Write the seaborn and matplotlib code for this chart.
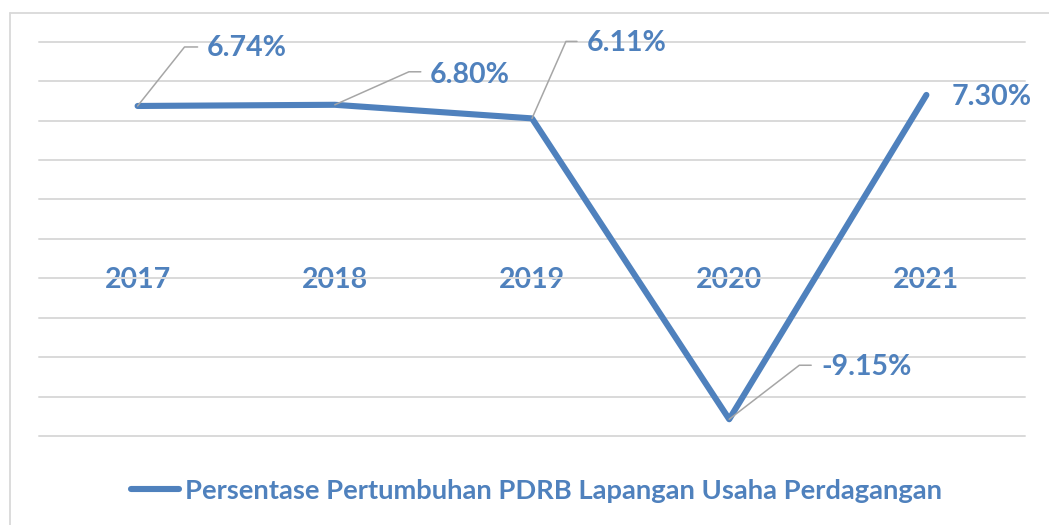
import math
import matplotlib
matplotlib.use("Agg")
import matplotlib.pyplot as plt
from matplotlib.lines import Line2D
import pandas as pd
import seaborn as sns

# ---- data -------------------------------------------------------------
years = ["2017", "2018", "2019", "2020", "2021"]
growth = [6.74, 6.80, 6.11, -9.15, 7.30]
value_labels = ["6.74%", "6.80%", "6.11%", "-9.15%", "7.30%"]
series_name = "Persentase Pertumbuhan PDRB Lapangan Usaha Perdagangan"
y_ticks = list(range(-10, 11, 2))

# ---- style ------------------------------------------------------------
BLUE = "#4F81BD"
GRID = "#D9D9D9"
LEADER = "#A6A6A6"
FONT = ["Lato", "DejaVu Sans"]
FS_NUM = 20.5
FS_LEG = 19.7

sns.set_theme(style="white")
plt.rcParams["font.family"] = FONT

W, H = 1049, 525
PX = 72 / 100  # points per pixel at dpi 100

df = pd.DataFrame({"Tahun": years, "Pertumbuhan": growth})

fig = plt.figure(figsize=(W / 100, H / 100), dpi=100)
ax = fig.add_axes([39 / W, 1 - 436 / H, (1025 - 39) / W, (436 - 41.7) / H])

sns.lineplot(data=df, x="Tahun", y="Pertumbuhan", ax=ax, color=BLUE,
             linewidth=4.4, sort=False, label=series_name)
line = ax.lines[0]
line.set_solid_capstyle("round")
line.set_solid_joinstyle("round")
handles, labels = ax.get_legend_handles_labels()
if ax.get_legend() is not None:
    ax.get_legend().remove()

ax.set_xlim(-0.5, len(years) - 0.5)
ax.set_ylim(y_ticks[0], y_ticks[-1])
ax.set_yticks(y_ticks)
ax.yaxis.grid(True, color=GRID, linewidth=1.4)
ax.xaxis.grid(False)
for gl in ax.get_ygridlines():
    gl.set_clip_on(False)
ax.tick_params(axis="y", left=False, labelleft=False)
ax.set_xlabel("")
ax.set_ylabel("")
for side in ["top", "right", "left"]:
    ax.spines[side].set_visible(False)
ax.spines["bottom"].set_position(("data", 0))
ax.spines["bottom"].set_visible(False)
ax.tick_params(axis="x", bottom=False, length=0, pad=20.5, colors=BLUE)
for t in ax.get_xticklabels():
    t.set_fontsize(FS_NUM)
    t.set_fontweight("bold")
    t.set_color(BLUE)

# value labels: offset of label (left, centre) and leader-line geometry, in pixels
label_offsets = [(69, 58), (95, 30), (55, 75), (92, 52), (25, -2)]
leader_ends = [(60, 59), (86, 33), (45, 77), (82, 54), None]
leader_elbows = [(47, 59), (74, 33), (34, 77), (70, 54), None]

for i, (yr, val, txt) in enumerate(zip(years, growth, value_labels)):
    xi = i
    dx, dy = label_offsets[i]
    ax.annotate(txt, xy=(xi, val), xytext=(dx * PX, dy * PX),
                textcoords="offset points", ha="left", va="center",
                fontsize=FS_NUM, fontweight="bold", color=BLUE)
    if leader_ends[i] is not None:
        ex, ey = leader_ends[i]
        bx, by = leader_elbows[i]
        ang = math.degrees(math.atan2(by, bx))
        ax.annotate("", xy=(xi, val), xytext=(ex * PX, ey * PX),
                    textcoords="offset points",
                    arrowprops=dict(arrowstyle="-", color=LEADER, lw=1.1,
                                    shrinkA=0, shrinkB=0,
                                    connectionstyle=f"angle,angleA=0,angleB={ang:.1f},rad=0"))

# legend below the plot
fig.legend(handles, labels, loc="center", bbox_to_anchor=(536.5 / W, 1 - 491 / H),
           frameon=False, handlelength=1.75, handletextpad=0.25, labelcolor=BLUE,
           prop=dict(family=FONT, weight="bold", size=FS_LEG))

# chart frame
fig.add_artist(Line2D([10 / W, 10 / W], [1 - 13 / H, 0], color=GRID, lw=1.3))
fig.add_artist(Line2D([10 / W, 1], [1 - 13 / H, 1 - 13 / H], color=GRID, lw=1.3))

fig.savefig("out.png", dpi=100, facecolor="white")
